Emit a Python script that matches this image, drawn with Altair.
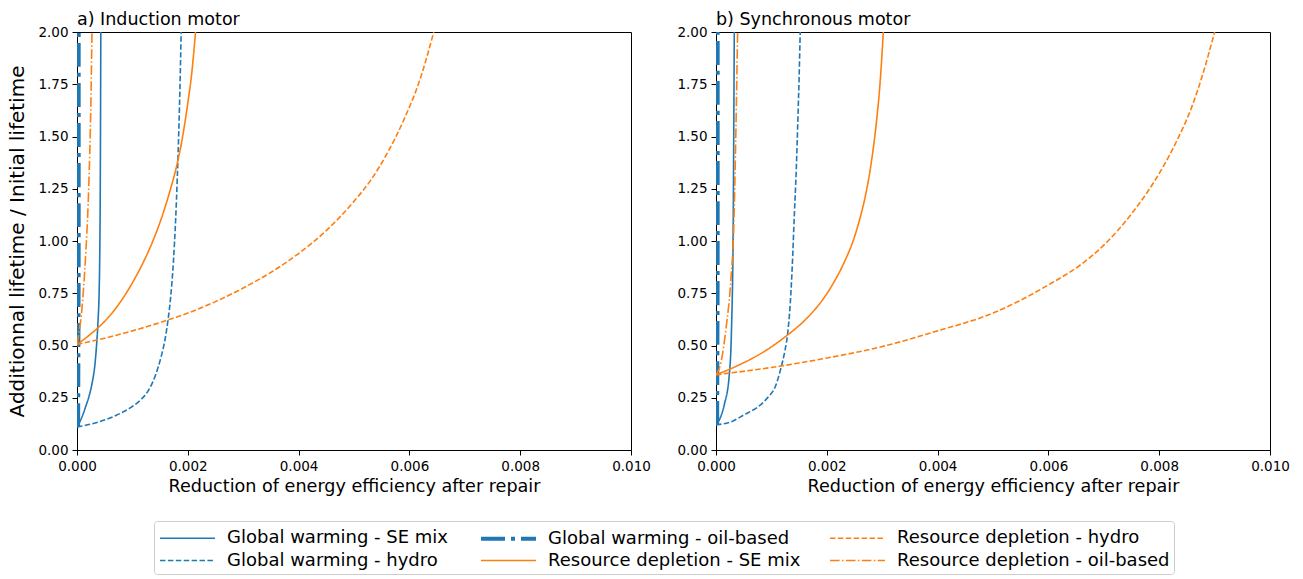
import altair as alt
import pandas as pd

# Legend order (row-major for a 3-column legend)
series_names = [
    "Global warming - SE mix",
    "Global warming - oil-based",
    "Resource depletion - hydro",
    "Global warming - hydro",
    "Resource depletion - SE mix",
    "Resource depletion - oil-based",
]
series_colors = ["#1f77b4", "#1f77b4", "#ff7f0e", "#1f77b4", "#ff7f0e", "#ff7f0e"]
series_dashes = [[1, 0], [24, 6, 4, 6], [5.5, 2.4], [5.5, 2.4], [1, 0], [9.6, 2.4, 1.5, 2.4]]
series_widths = [1.6, 4, 1.6, 1.6, 1.6, 1.6]

x_ticks = [0.0, 0.002, 0.004, 0.006, 0.008, 0.010]
y_ticks = [0.0, 0.25, 0.5, 0.75, 1.0, 1.25, 1.5, 1.75, 2.0]

# ---------- a) Induction motor ----------
a_gw_se_x = [0, 0.00005, 0.0001, 0.00016, 0.00022, 0.00028, 0.00032, 0.00035, 0.00038, 0.0004,
             0.00041, 0.00042, 0.00043]
a_gw_se_y = [0.11, 0.135, 0.165, 0.21, 0.26, 0.33, 0.40, 0.49, 0.62, 0.76,
             0.92, 1.25, 2.0]

a_gw_hy_x = [0, 0.0004, 0.0007, 0.00095, 0.00115, 0.0013, 0.00142, 0.00152, 0.00159, 0.00164,
             0.00169, 0.00174, 0.00178, 0.00181, 0.00184, 0.00186, 0.00188]
a_gw_hy_y = [0.11, 0.135, 0.165, 0.2, 0.24, 0.29, 0.36, 0.448, 0.53, 0.616,
             0.73, 0.9, 1.1, 1.3, 1.55, 1.75, 2.0]

a_gw_oil_x = [0.00002, 0.000025, 0.00003, 0.00003]
a_gw_oil_y = [0.11, 0.5, 1.0, 2.0]

a_rd_se_x = [0, 0.0002, 0.0004, 0.0006, 0.0008, 0.001, 0.0012, 0.0014, 0.0016, 0.0017,
             0.0018, 0.0019, 0.002, 0.00207, 0.00214]
a_rd_se_y = [0.505, 0.545, 0.59, 0.645, 0.715, 0.80, 0.90, 1.02, 1.17, 1.26,
             1.36, 1.49, 1.66, 1.80, 2.0]

a_rd_hy_x = [0, 0.0005, 0.001, 0.0015, 0.002, 0.0025, 0.003, 0.0035, 0.004, 0.0045,
             0.005, 0.0053, 0.0056, 0.0059, 0.0062, 0.00644]
a_rd_hy_y = [0.505, 0.535, 0.57, 0.61, 0.655, 0.71, 0.775, 0.85, 0.94, 1.05,
             1.19, 1.29, 1.42, 1.58, 1.78, 2.0]

a_rd_oil_x = [0, 0.00004, 0.00008, 0.00012, 0.00016, 0.0002, 0.00023, 0.00025, 0.00027]
a_rd_oil_y = [0.505, 0.57, 0.65, 0.78, 0.95, 1.17, 1.42, 1.65, 2.0]

# ---------- b) Synchronous motor ----------
b_gw_se_x = [0, 0.00007, 0.00015, 0.00024, 0.00028, 0.00031, 0.00032, 0.00033]
b_gw_se_y = [0.12, 0.15, 0.217, 0.36, 0.58, 1.06, 1.5, 2.0]

b_gw_hy_x = [0, 0.0003, 0.00051, 0.00075, 0.00093, 0.00108, 0.00117, 0.00124, 0.00129, 0.00134,
             0.00138, 0.00141, 0.00145, 0.00148, 0.0015, 0.00152]
b_gw_hy_y = [0.12, 0.138, 0.169, 0.205, 0.25, 0.31, 0.39, 0.47, 0.55, 0.7,
             0.9, 1.1, 1.35, 1.6, 1.78, 2.0]

b_gw_oil_x = [0.00002, 0.000025, 0.00003, 0.00003]
b_gw_oil_y = [0.12, 0.5, 1.0, 2.0]

b_rd_se_x = [0, 0.0004, 0.0008, 0.00129, 0.0016, 0.0019, 0.0021, 0.0023, 0.0025, 0.0026,
             0.0027, 0.0028, 0.0029, 0.00296, 0.00302]
b_rd_se_y = [0.36, 0.405, 0.46, 0.55, 0.62, 0.71, 0.79, 0.89, 1.02, 1.11,
             1.22, 1.37, 1.58, 1.75, 2.0]

b_rd_hy_x = [0, 0.001, 0.002, 0.003, 0.004, 0.005, 0.006, 0.0066, 0.007, 0.0075,
             0.0079, 0.0083, 0.0086, 0.0088, 0.009]
b_rd_hy_y = [0.36, 0.395, 0.44, 0.495, 0.57, 0.655, 0.79, 0.89, 0.98, 1.13,
             1.28, 1.47, 1.65, 1.81, 2.0]

b_rd_oil_x = [0, 0.00009, 0.00018, 0.00027, 0.00032, 0.00036, 0.00039]
b_rd_oil_y = [0.36, 0.42, 0.58, 0.82, 1.06, 1.54, 2.0]

panel_a = {
    "Global warming - SE mix": (a_gw_se_x, a_gw_se_y),
    "Global warming - hydro": (a_gw_hy_x, a_gw_hy_y),
    "Global warming - oil-based": (a_gw_oil_x, a_gw_oil_y),
    "Resource depletion - SE mix": (a_rd_se_x, a_rd_se_y),
    "Resource depletion - hydro": (a_rd_hy_x, a_rd_hy_y),
    "Resource depletion - oil-based": (a_rd_oil_x, a_rd_oil_y),
}
panel_b = {
    "Global warming - SE mix": (b_gw_se_x, b_gw_se_y),
    "Global warming - hydro": (b_gw_hy_x, b_gw_hy_y),
    "Global warming - oil-based": (b_gw_oil_x, b_gw_oil_y),
    "Resource depletion - SE mix": (b_rd_se_x, b_rd_se_y),
    "Resource depletion - hydro": (b_rd_hy_x, b_rd_hy_y),
    "Resource depletion - oil-based": (b_rd_oil_x, b_rd_oil_y),
}


def to_df(d):
    rows = []
    for name, (xs, ys) in d.items():
        for i, (xv, yv) in enumerate(zip(xs, ys)):
            rows.append({"series": name, "x": xv, "y": yv, "i": i})
    return pd.DataFrame(rows)


FONT = "DejaVu Sans"


def panel(df, title, ytitle):
    yaxis = alt.Axis(values=y_ticks, format=".2f", grid=False, tickSize=5, labelFlush=False,
                     labelFontSize=13.5, titleFontSize=20, titlePadding=10)
    ykw = {"title": ytitle} if ytitle else {"title": None}
    return alt.Chart(df).mark_line(clip=True, strokeCap="butt", interpolate="monotone").encode(
        x=alt.X("x:Q", scale=alt.Scale(domain=[0, 0.01], nice=False, zero=False),
                axis=alt.Axis(values=x_ticks, format=".3f", grid=False, tickSize=5, labelFlush=False,
                              labelFontSize=13.5, titleFontSize=17.6, titlePadding=5),
                title="Reduction of energy efficiency after repair"),
        y=alt.Y("y:Q", scale=alt.Scale(domain=[0, 2], nice=False), axis=yaxis, **ykw),
        color=alt.Color("series:N", scale=alt.Scale(domain=series_names, range=series_colors), title=None),
        strokeDash=alt.StrokeDash("series:N", scale=alt.Scale(type="ordinal", domain=series_names, range=series_dashes), title=None),
        strokeWidth=alt.StrokeWidth("series:N", scale=alt.Scale(type="ordinal", domain=series_names, range=series_widths), title=None),
        order=alt.Order("i:Q"),
    ).properties(
        width=554, height=418,
        title=alt.TitleParams(title, anchor="start", frame="group", fontSize=17.5,
                              fontWeight="normal", offset=-3, font=FONT),
    )


left = panel(to_df(panel_a), "a) Induction motor", "Additionnal lifetime / Initial lifetime")
right = panel(to_df(panel_b), "b) Synchronous motor", None)

chart = alt.hconcat(left, right, spacing=25).properties(
    padding={"left": 7, "top": 10, "right": 5, "bottom": 0}
).configure_view(
    stroke="black", strokeWidth=1
).configure_axis(
    domainColor="black", tickColor="black", labelColor="black", titleColor="black",
    labelFont=FONT, titleFont=FONT, titleFontWeight="normal", labelPadding=4,
).configure_legend(
    orient="none", legendX=77, legendY=489, columns=3, direction="horizontal",
    symbolType="M-1,0H3.78", symbolSize=529, labelFont=FONT, labelFontSize=18, labelColor="black",
    labelLimit=400, columnPadding=25, rowPadding=0, labelOffset=42,
    strokeColor="#cccccc", padding=4, cornerRadius=3, fillColor="white",
).configure_title(font=FONT, color="black")

chart.save("out.html", embed_options={"renderer": "svg", "actions": False})
